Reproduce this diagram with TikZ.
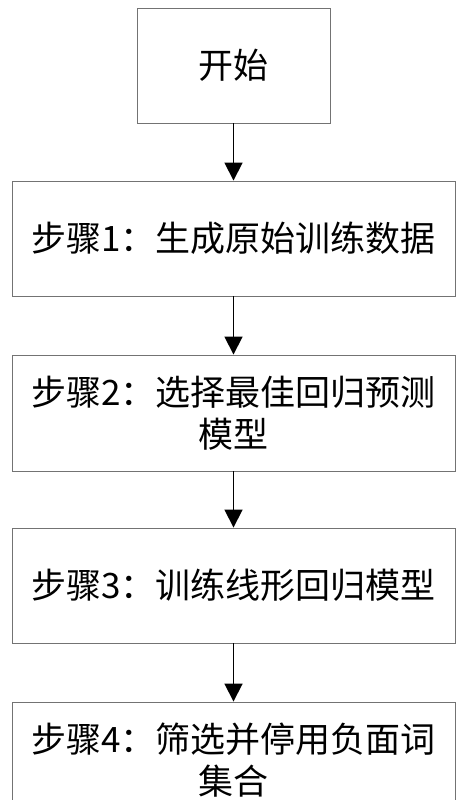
\documentclass[tikz,border=0pt]{standalone}
\usepackage{fontspec}
\newfontfamily\cjk{Noto Sans CJK SC}
\usetikzlibrary{arrows.meta}
\tikzset{
  box/.style={draw=black!55, line width=0.9pt, fill=white, inner sep=0pt, align=center,
    font=\cjk\fontsize{35}{42}\selectfont},
  flow/.style={draw=black, line width=1.8pt, -{Triangle[width=18pt,length=18pt]}}
}
\begin{document}
\begin{tikzpicture}[x=1pt,y=1pt]
\useasboundingbox[fill=white] (0,0) rectangle (464,800);
\begin{scope}
\clip (0,0) rectangle (464,800);
\node[box, minimum width=193pt, minimum height=115pt] (start) at (233.5,734.5) {开始};
\node[box, minimum width=443pt, minimum height=115pt] (s1) at (233.5,561.5) {步骤1：生成原始训练数据};
\node[box, minimum width=443pt, minimum height=116pt] (s2) at (233.5,387) {步骤2：选择最佳回归预测\\模型};
\node[box, minimum width=443pt, minimum height=115pt] (s3) at (233.5,214.5) {步骤3：训练线形回归模型};
\node[box, minimum width=443pt, minimum height=116pt] (s4) at (233.5,40) {步骤4：筛选并停用负面词\\集合};
\draw[flow] (start.south) -- (s1.north);
\draw[flow] (s1.south) -- (s2.north);
\draw[flow] (s2.south) -- (s3.north);
\draw[flow] (s3.south) -- (s4.north);
\end{scope}
\end{tikzpicture}
\end{document}
